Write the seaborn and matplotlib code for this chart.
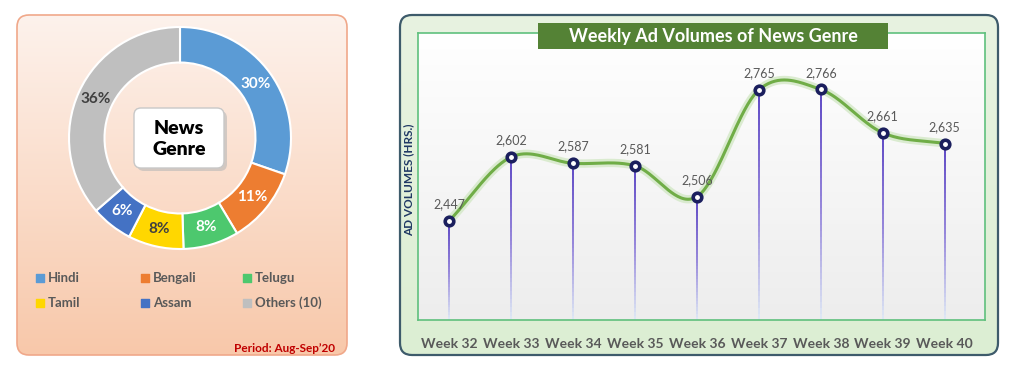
import numpy as np
import pandas as pd
import matplotlib
matplotlib.use("Agg")
import matplotlib.pyplot as plt
import seaborn as sns
from matplotlib.patches import FancyBboxPatch, Rectangle
from matplotlib.collections import LineCollection
from matplotlib.colors import LinearSegmentedColormap

# donut data
genres = ["Hindi", "Bengali", "Telugu", "Tamil", "Assam", "Others (10)"]
shares = [30, 11, 8, 8, 6, 36]
genre_colors = ["#5B9BD5", "#ED7D31", "#4DC86E", "#FFD700", "#4472C4", "#BFBFBF"]
pct_colors = ["white", "white", "white", "#404040", "white", "#404040"]

# weekly line data
weeks = ["Week 32", "Week 33", "Week 34", "Week 35", "Week 36",
         "Week 37", "Week 38", "Week 39", "Week 40"]
volumes = [2447, 2602, 2587, 2581, 2506, 2765, 2766, 2661, 2635]

sns.set_theme(style="white")
plt.rcParams["font.family"] = ["Lato", "DejaVu Sans"]

W, H = 1024, 374
fig = plt.figure(figsize=(W / 100, H / 100), dpi=100)
fig.patch.set_facecolor("white")


def fr(x0, y0, x1, y1):
    # pixel box (top-left origin) -> figure fraction rect
    return [x0 / W, 1 - y1 / H, (x1 - x0) / W, (y1 - y0) / H]


bg = fig.add_axes([0, 0, 1, 1])
bg.axis("off")


def gradient(ax, x, y, w, h, c_top, c_bot, clip=None):
    grad = np.linspace(0, 1, 256)[:, None]
    cmap = LinearSegmentedColormap.from_list("g", [c_top, c_bot])
    im = ax.imshow(grad, cmap=cmap, extent=[x, x + w, y + h, y],
                   aspect="auto", zorder=1, interpolation="bilinear")
    if clip is not None:
        im.set_clip_path(clip)


def panel(x, y, w, h, c_top, c_bot, edge, lw):
    p = FancyBboxPatch((x, y), w, h, boxstyle="round,pad=0,rounding_size=12",
                       fc="none", ec=edge, lw=lw, zorder=3)
    bg.add_patch(p)
    gradient(bg, x, y, w, h, c_top, c_bot, clip=p)


# ---- left panel
panel(17, 15, 330, 340, "#FDF2EC", "#F8C8AA", "#F0A88A", 1.2)

# ---- right panel
panel(400, 15, 598, 340, "#E8F3E1", "#DCEED3", "#3E5B6B", 1.6)
gradient(bg, 418, 33, 567, 287, "#FFFFFF", "#EDEDED")

# News Genre box
bg.add_patch(FancyBboxPatch((137, 111), 90, 60, boxstyle="round,pad=0,rounding_size=7",
                            fc="#B8B8B8", ec="none", alpha=0.6, zorder=4))
bg.add_patch(FancyBboxPatch((134, 108), 90, 60, boxstyle="round,pad=0,rounding_size=7",
                            fc="white", ec="#C8C8C8", lw=1.0, zorder=5))
bg.text(179, 139, "News\nGenre", ha="center", va="center", fontsize=14,
        fontweight="heavy", color="black", linespacing=1.3, zorder=6)

# legend
col_x = [40, 145, 247]
row_y = [278, 303]
for i, (g, c) in enumerate(zip(genres, genre_colors)):
    gx, gy = col_x[i % 3], row_y[i // 3]
    bg.scatter([gx], [gy], marker="s", s=28, color=c, zorder=5)
    bg.text(gx + 8, gy, g, ha="left", va="center", fontsize=9.5,
            fontweight="bold", color="#595959", zorder=5)

bg.text(335, 349, "Period: Aug-Sep\u201920", ha="right", va="center",
        color="#C00000", fontsize=8.5, fontweight="bold", zorder=5)

bg.set_xlim(0, W)
bg.set_ylim(H, 0)

# ---- donut
R = 1.02
ax_d = fig.add_axes(fr(180 - 111 * R, 138 - 111 * R, 180 + 111 * R, 138 + 111 * R))
wedges, texts = ax_d.pie(shares, colors=genre_colors, startangle=90, counterclock=False,
                         labels=[f"{s}%" for s in shares], labeldistance=0.84,
                         wedgeprops=dict(width=0.32, edgecolor="white", linewidth=1.5))
for t, c in zip(texts, pct_colors):
    t.set(color=c, ha="center", va="center", fontsize=11, fontweight="bold")
ax_d.set_xlim(-R, R)
ax_d.set_ylim(-R, R)
ax_d.set_aspect("equal")

# ---- line chart
df = pd.DataFrame({"week": weeks, "x": np.arange(len(weeks)), "volume": volumes})
ylo, yhi = 2207, 2903


def smooth(x, y, n=40):
    x = np.asarray(x, float)
    y = np.asarray(y, float)
    px = np.concatenate([[2 * x[0] - x[1]], x, [2 * x[-1] - x[-2]]])
    py = np.concatenate([[2 * y[0] - y[1]], y, [2 * y[-1] - y[-2]]])
    t = np.linspace(0, 1, n)
    sx, sy = [], []
    for i in range(1, len(px) - 2):
        for p, out in ((px, sx), (py, sy)):
            p0, p1, p2, p3 = p[i - 1], p[i], p[i + 1], p[i + 2]
            out.extend(0.5 * (2 * p1 + (-p0 + p2) * t
                              + (2 * p0 - 5 * p1 + 4 * p2 - p3) * t ** 2
                              + (-p0 + 3 * p1 - 3 * p2 + p3) * t ** 3))
    return np.array(sx), np.array(sy)


ax = fig.add_axes(fr(418, 33, 985, 320))
ax.patch.set_alpha(0)

# stems with fading colour
stem_cmap = LinearSegmentedColormap.from_list("stem", ["#DCE6F5", "#8C7BD8", "#5038C0"])
segs, cols = [], []
for xi, yi in zip(df["x"], df["volume"]):
    ys = np.linspace(ylo, yi, 40)
    for k in range(len(ys) - 1):
        segs.append([(xi, ys[k]), (xi, ys[k + 1])])
        cols.append(stem_cmap(k / (len(ys) - 2)))
ax.add_collection(LineCollection(segs, colors=cols, linewidths=1.3, zorder=2))

sx, sy = smooth(df["x"], df["volume"])
sns.lineplot(x=sx, y=sy, ax=ax, color="#D3E8C6", lw=6, alpha=0.8, sort=False,
             estimator=None, zorder=3)
sns.lineplot(x=sx, y=sy, ax=ax, color="#70AD47", lw=2.2, sort=False,
             estimator=None, zorder=4)
sns.scatterplot(data=df, x="x", y="volume", ax=ax, s=38, color="white",
                edgecolor="#1B1F5E", linewidth=2.6, zorder=5)

for xi, v in zip(df["x"], df["volume"]):
    ax.annotate(f"{v:,}", (xi, v), xytext=(0, 12), textcoords="offset points",
                ha="center", va="center", fontsize=9, color="#595959", zorder=6)

ax.set_xlim(-0.5, 8.65)
ax.set_ylim(ylo, yhi)
ax.set_xticks(df["x"])
ax.set_xticklabels(weeks, fontsize=10, fontweight="bold", color="#595959")
ax.set_yticks([])
ax.set_xlabel("")
ax.set_ylabel("")
ax.tick_params(axis="x", length=0, pad=13)
for s in ax.spines.values():
    s.set_color("#5FC07D")
    s.set_linewidth(1.2)

# ---- overlay: title and y label
top = fig.add_axes([0, 0, 1, 1], zorder=10)
top.axis("off")
top.set_xlim(0, W)
top.set_ylim(H, 0)
top.add_patch(Rectangle((538, 23), 350, 26, fc="#548235", ec="none"))
top.text(713, 36, "Weekly Ad Volumes of News Genre", ha="center", va="center",
         fontsize=13, fontweight="bold", color="white")
top.text(409, 180, "AD VOLUMES (HRS.)", rotation=90, ha="center", va="center",
         fontsize=8.5, fontweight="bold", color="#1F3864")

fig.savefig("out.png", dpi=100)
